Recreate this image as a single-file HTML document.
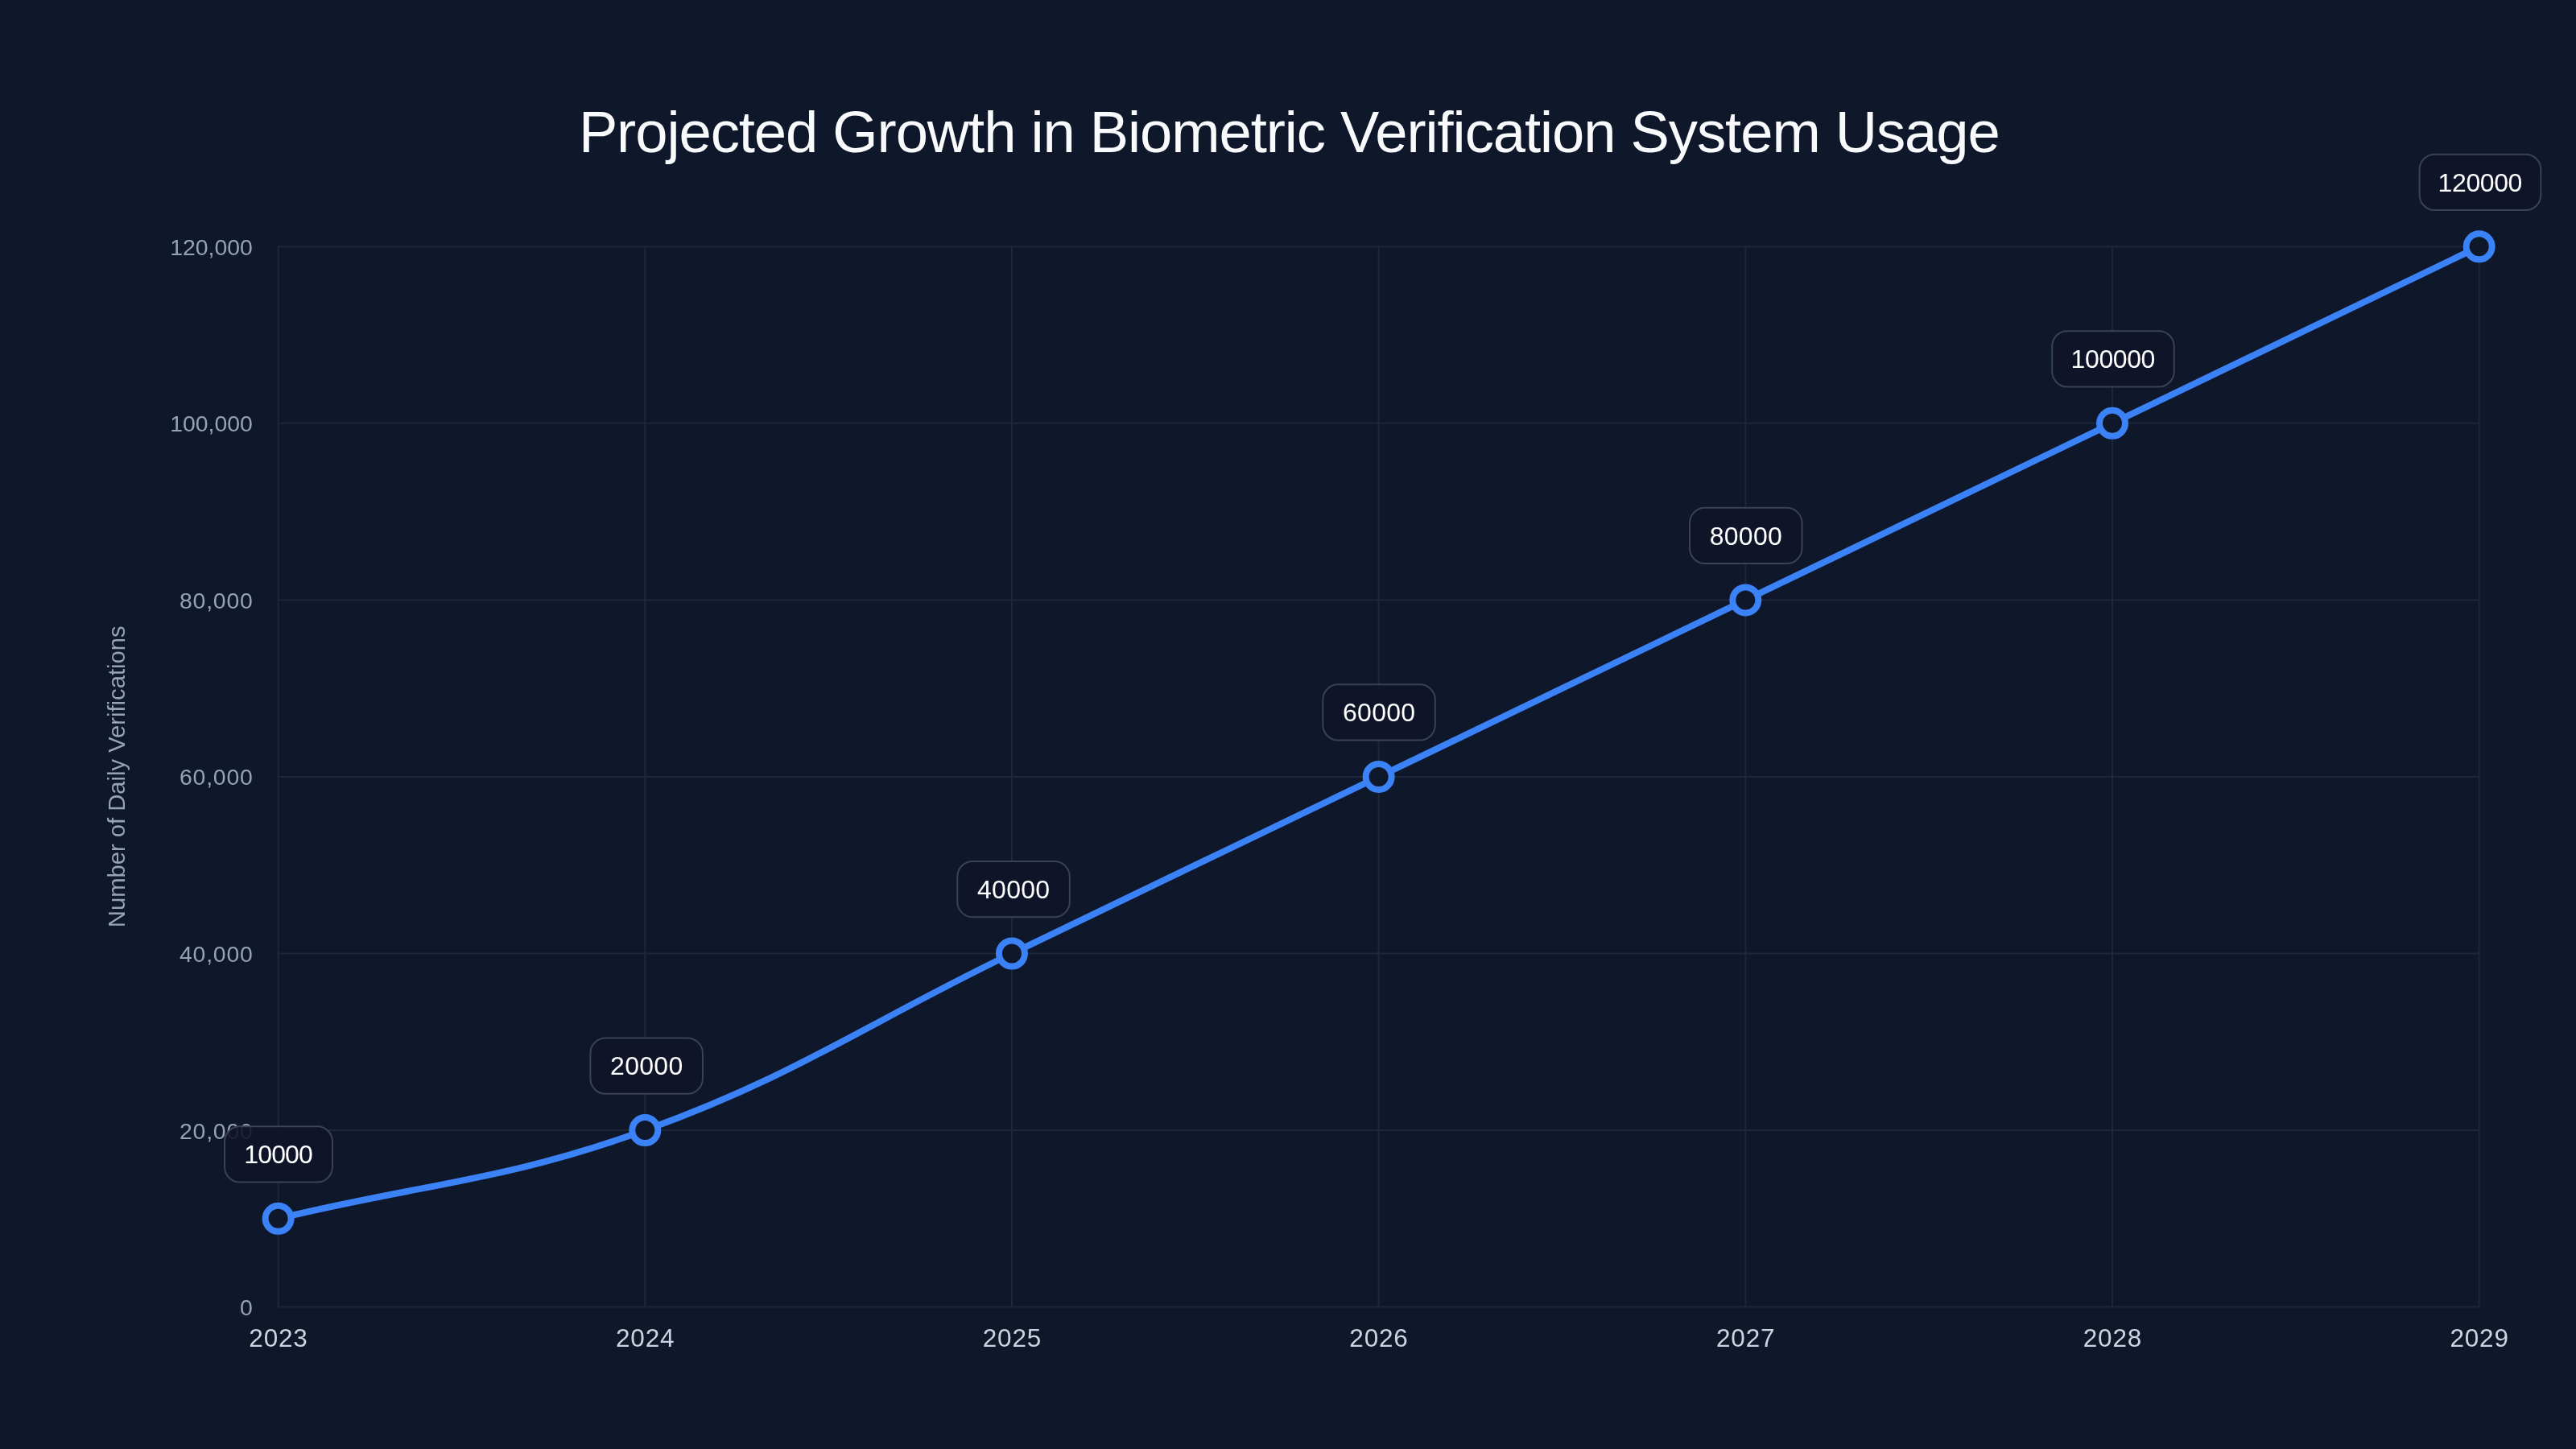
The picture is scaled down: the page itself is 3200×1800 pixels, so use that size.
<!DOCTYPE html><html><head><meta charset="utf-8"><title>Projected Growth in Biometric Verification System Usage</title><style>
html,body{margin:0;padding:0;background:#0f172a;overflow:hidden;width:100%;height:100%}
svg{display:block;width:100vw;height:100vh;will-change:transform}
text{font-family:"Liberation Sans", sans-serif}
</style></head><body>
<svg viewBox="0 0 3200 1800" preserveAspectRatio="none">
<rect x="0" y="0" width="3200" height="1800" fill="#0f172a"/>
<text x="1601.3" y="188.9" text-anchor="middle" font-size="72.4" letter-spacing="-1.05" fill="#f8fafc">Projected Growth in Biometric Verification System Usage</text>
<path d="M344.6,1623.6 H3080.7 M344.6,1404.0 H3080.7 M344.6,1184.5 H3080.7 M344.6,964.9 H3080.7 M344.6,745.4 H3080.7 M344.6,525.8 H3080.7 M344.6,306.3 H3080.7 M345.6,305.3 V1624.6 M801.3,305.3 V1624.6 M1257.0,305.3 V1624.6 M1712.6,305.3 V1624.6 M2168.3,305.3 V1624.6 M2624.0,305.3 V1624.6 M3079.7,305.3 V1624.6" stroke="#1e2639" stroke-width="2" fill="none"/>
<text x="313.8" y="1634.1" text-anchor="end" font-size="28.4" letter-spacing="0" fill="#94a3b8">0</text>
<text x="314.6" y="1414.5" text-anchor="end" font-size="28.4" letter-spacing="0.8" fill="#94a3b8">20,000</text>
<text x="314.6" y="1195.0" text-anchor="end" font-size="28.4" letter-spacing="0.8" fill="#94a3b8">40,000</text>
<text x="314.6" y="975.4" text-anchor="end" font-size="28.4" letter-spacing="0.8" fill="#94a3b8">60,000</text>
<text x="314.6" y="755.9" text-anchor="end" font-size="28.4" letter-spacing="0.8" fill="#94a3b8">80,000</text>
<text x="313.8" y="536.3" text-anchor="end" font-size="28.4" letter-spacing="0" fill="#94a3b8">100,000</text>
<text x="313.8" y="316.8" text-anchor="end" font-size="28.4" letter-spacing="0" fill="#94a3b8">120,000</text>
<text x="346.0" y="1673.2" text-anchor="middle" font-size="31.5" letter-spacing="0.8" fill="#cbd5e1">2023</text>
<text x="801.7" y="1673.2" text-anchor="middle" font-size="31.5" letter-spacing="0.8" fill="#cbd5e1">2024</text>
<text x="1257.4" y="1673.2" text-anchor="middle" font-size="31.5" letter-spacing="0.8" fill="#cbd5e1">2025</text>
<text x="1713.0" y="1673.2" text-anchor="middle" font-size="31.5" letter-spacing="0.8" fill="#cbd5e1">2026</text>
<text x="2168.7" y="1673.2" text-anchor="middle" font-size="31.5" letter-spacing="0.8" fill="#cbd5e1">2027</text>
<text x="2624.4" y="1673.2" text-anchor="middle" font-size="31.5" letter-spacing="0.8" fill="#cbd5e1">2028</text>
<text x="3080.1" y="1673.2" text-anchor="middle" font-size="31.5" letter-spacing="0.8" fill="#cbd5e1">2029</text>
<text x="0" y="0" transform="translate(155.4,964.8) rotate(-90)" text-anchor="middle" font-size="29.2" fill="#94a3b8">Number of Daily Verifications</text>
<path d="M345.60,1513.82 C527.87,1469.91 625.95,1467.41 801.28,1404.05 C990.49,1335.68 1074.69,1272.32 1256.96,1184.50 C1439.23,1096.68 1530.37,1052.77 1712.64,964.95 C1894.91,877.13 1986.05,833.22 2168.32,745.40 C2350.59,657.58 2441.73,613.67 2624.00,525.85 C2806.27,438.03 2897.41,394.12 3079.68,306.30" stroke="#3b82f6" stroke-width="8" fill="none" stroke-linejoin="round" stroke-linecap="round"/>
<circle cx="345.60" cy="1513.82" r="16" fill="#0f172a" stroke="#3b82f6" stroke-width="8"/>
<circle cx="801.28" cy="1404.05" r="16" fill="#0f172a" stroke="#3b82f6" stroke-width="8"/>
<circle cx="1256.96" cy="1184.50" r="16" fill="#0f172a" stroke="#3b82f6" stroke-width="8"/>
<circle cx="1712.64" cy="964.95" r="16" fill="#0f172a" stroke="#3b82f6" stroke-width="8"/>
<circle cx="2168.32" cy="745.40" r="16" fill="#0f172a" stroke="#3b82f6" stroke-width="8"/>
<circle cx="2624.00" cy="525.85" r="16" fill="#0f172a" stroke="#3b82f6" stroke-width="8"/>
<circle cx="3079.68" cy="306.30" r="16" fill="#0f172a" stroke="#3b82f6" stroke-width="8"/>
<rect x="279.0" y="1399.2" width="134.0" height="69.3" rx="19" ry="19" fill="rgba(16,20,41,0.9)" stroke="#394257" stroke-width="2"/>
<text x="345.6" y="1445.2" text-anchor="middle" font-size="32" letter-spacing="-0.9" fill="#ffffff">10000</text>
<rect x="733.4" y="1289.5" width="139.5" height="69.3" rx="19" ry="19" fill="rgba(16,20,41,0.9)" stroke="#394257" stroke-width="2"/>
<text x="803.3" y="1335.4" text-anchor="middle" font-size="32" letter-spacing="0.3" fill="#ffffff">20000</text>
<rect x="1189.3" y="1069.9" width="139.5" height="69.3" rx="19" ry="19" fill="rgba(16,20,41,0.9)" stroke="#394257" stroke-width="2"/>
<text x="1259.2" y="1115.9" text-anchor="middle" font-size="32" letter-spacing="0.3" fill="#ffffff">40000</text>
<rect x="1643.3" y="850.3" width="139.5" height="69.3" rx="19" ry="19" fill="rgba(16,20,41,0.9)" stroke="#394257" stroke-width="2"/>
<text x="1713.2" y="896.3" text-anchor="middle" font-size="32" letter-spacing="0.3" fill="#ffffff">60000</text>
<rect x="2099.0" y="630.8" width="139.5" height="69.3" rx="19" ry="19" fill="rgba(16,20,41,0.9)" stroke="#394257" stroke-width="2"/>
<text x="2168.9" y="676.7" text-anchor="middle" font-size="32" letter-spacing="0.3" fill="#ffffff">80000</text>
<rect x="2549.2" y="411.2" width="151.5" height="69.3" rx="19" ry="19" fill="rgba(16,20,41,0.9)" stroke="#394257" stroke-width="2"/>
<text x="2624.8" y="457.2" text-anchor="middle" font-size="32" letter-spacing="-0.4" fill="#ffffff">100000</text>
<rect x="3005.6" y="191.7" width="150.7" height="69.3" rx="19" ry="19" fill="rgba(16,20,41,0.9)" stroke="#394257" stroke-width="2"/>
<text x="3080.8" y="237.6" text-anchor="middle" font-size="32" letter-spacing="-0.4" fill="#ffffff">120000</text>
</svg></body></html>
